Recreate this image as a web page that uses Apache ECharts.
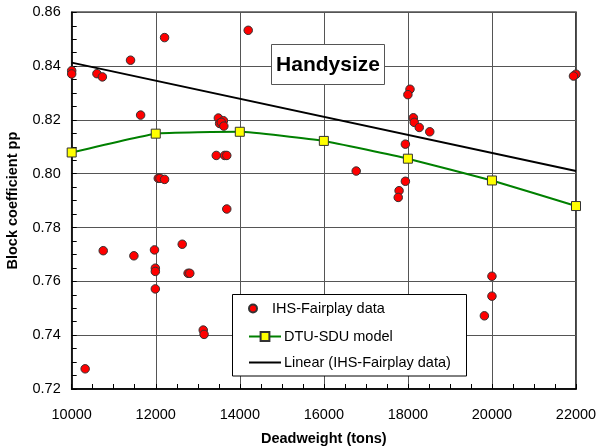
<!DOCTYPE html>
<html>
<head>
<meta charset="utf-8">
<script src="https://cdn.jsdelivr.net/npm/echarts@6/dist/echarts.min.js"></script>
<style>
  html, body { margin: 0; padding: 0; background: #fff; }
  #chart { width: 598px; height: 448px; }
</style>
</head>
<body>
<div id="chart"></div>
<script>
// IHS-Fairplay vessels: deadweight (tons) and block coefficient
const fleetDwt = [
  10000, 10000, 10600, 10730, 11400, 12210, 14200, 11640,
  13490, 13610, 13520, 13560, 13620, 13440, 13640, 13690,
  12060, 12100, 12210, 18050, 18000, 18130, 18150, 18270,
  18520, 17940, 16770, 17940, 17790, 17770, 22000, 21940,
  13690, 10750, 11480, 11970, 12630, 11990, 11990, 12770,
  12810, 11990, 13130, 13150, 10320, 20000, 20000, 19820
];
const fleetCb = [
  0.8383, 0.8371, 0.8372, 0.8360, 0.8422, 0.8506, 0.8533, 0.8218,
  0.8207, 0.8197, 0.8187, 0.8191, 0.8177, 0.8068, 0.8068, 0.8068,
  0.7983, 0.7983, 0.7979, 0.8314, 0.8294, 0.8208, 0.8191, 0.8172,
  0.8156, 0.8110, 0.8010, 0.7972, 0.7937, 0.7912, 0.8370, 0.8363,
  0.7869, 0.7714, 0.7695, 0.7717, 0.7738, 0.7649, 0.7637, 0.7630,
  0.7630, 0.7572, 0.7419, 0.7403, 0.7275, 0.7619, 0.7545, 0.7472
];

// DTU-SDU model curve
const modelDwt = [10000, 12000, 14000, 16000, 18000, 20000, 22000];
const modelCb = [0.8079, 0.8149, 0.8156, 0.8122, 0.8056, 0.7975, 0.7880];

// Linear trend of the fleet data (end points)
const trendDwt = [10000, 22000];
const trendCb = [0.8413, 0.8010];

const chartTitle = 'Handysize';
const seriesNames = ['IHS-Fairplay data', 'DTU-SDU model', 'Linear (IHS-Fairplay data)'];

const pair = (xs, ys) => xs.map((x, i) => [x, ys[i]]);

const chart = echarts.init(document.getElementById('chart'), null, { renderer: 'canvas' });
const FONT = 'Liberation Sans, Arial, sans-serif';

const grid = { left: 71.7, right: 22, top: 12.3, bottom: 59 };

chart.setOption({
  animation: false,
  backgroundColor: '#ffffff',
  textStyle: { fontFamily: FONT },
  grid: Object.assign({
    show: true, borderColor: '#000', borderWidth: 1.5, backgroundColor: 'transparent',
    containLabel: false, outerBoundsMode: 'none'
  }, grid),
  xAxis: {
    type: 'value', min: 10000, max: 22000, interval: 2000,
    name: 'Deadweight (tons)', nameLocation: 'middle', nameGap: 42,
    nameTextStyle: { fontFamily: FONT, fontWeight: 'bold', fontSize: 14.5, color: '#000' },
    axisLine: { show: true, onZero: false, lineStyle: { color: '#000', width: 1.5 } },
    axisTick: { show: true, inside: true, length: 5, lineStyle: { color: '#000' } },
    minorTick: { show: true, splitNumber: 4, length: 5, lineStyle: { color: '#000' } },
    axisLabel: { fontFamily: FONT, fontSize: 14.5, color: '#000', margin: 18,
      formatter: v => String(v) },
    splitLine: { show: true, lineStyle: { color: '#555', width: 1 } }
  },
  yAxis: {
    type: 'value', min: 0.72, max: 0.86, interval: 0.02,
    name: 'Block coefficient pp', nameLocation: 'middle', nameGap: 51,
    nameTextStyle: { fontFamily: FONT, fontWeight: 'bold', fontSize: 14.5, color: '#000' },
    axisLine: { show: true, onZero: false, lineStyle: { color: '#000', width: 1.5 } },
    axisTick: { show: true, inside: true, length: 5, lineStyle: { color: '#000' } },
    minorTick: { show: true, splitNumber: 4, length: 5, lineStyle: { color: '#000' } },
    axisLabel: { fontFamily: FONT, fontSize: 14.5, color: '#000', margin: 11,
      formatter: v => v.toFixed(2) },
    splitLine: { show: true, lineStyle: { color: '#555', width: 1 } }
  },
  legend: [
    {
      data: [seriesNames[0]],
      left: 248, top: 301, orient: 'vertical', padding: 0,
      itemWidth: 32, itemHeight: 8,
      textStyle: { fontFamily: FONT, fontSize: 14.5, color: '#000', padding: [0, 0, 0, -2] },
      z: 10, selectedMode: false
    },
    {
      data: [
        { name: seriesNames[1] },
        { name: seriesNames[2], itemStyle: { opacity: 0 } }
      ],
      left: 248, top: 329, orient: 'vertical', padding: 0,
      itemWidth: 32, itemHeight: 11, itemGap: 11,
      textStyle: { fontFamily: FONT, fontSize: 14.5, color: '#000', padding: [0, 0, 0, -2] },
      z: 10, selectedMode: false
    }
  ],
  graphic: [
    {
      type: 'rect', z: 5,
      shape: { x: 232.5, y: 294.5, width: 234, height: 81.5 },
      style: { fill: '#fff', stroke: '#000', lineWidth: 1 }
    },
    {
      type: 'rect', z: 5,
      shape: { x: 271.5, y: 44.5, width: 113, height: 40 },
      style: { fill: '#fff', stroke: '#555', lineWidth: 1 }
    },
    {
      type: 'text', z: 6,
      x: 328, y: 65,
      style: { text: chartTitle, fontFamily: FONT, fontWeight: 'bold', fontSize: 21,
        fill: '#000', align: 'center', verticalAlign: 'middle' }
    }
  ],
  series: [
    {
      name: seriesNames[2], type: 'line', data: pair(trendDwt, trendCb),
      symbol: 'none', z: 2,
      lineStyle: { color: '#000', width: 2 }, itemStyle: { color: '#000' }
    },
    {
      name: seriesNames[1], type: 'line', data: pair(modelDwt, modelCb),
      smooth: 0.12, symbol: 'rect', symbolSize: 9, z: 3,
      lineStyle: { color: '#008000', width: 2 },
      itemStyle: { color: '#ffff00', borderColor: '#333', borderWidth: 1 }
    },
    {
      name: seriesNames[0], type: 'scatter', data: pair(fleetDwt, fleetCb),
      symbol: 'circle', symbolSize: 8.5, z: 4,
      itemStyle: { color: '#ff0000', borderColor: '#333', borderWidth: 1, opacity: 1 }
    }
  ]
});
</script>
</body>
</html>
